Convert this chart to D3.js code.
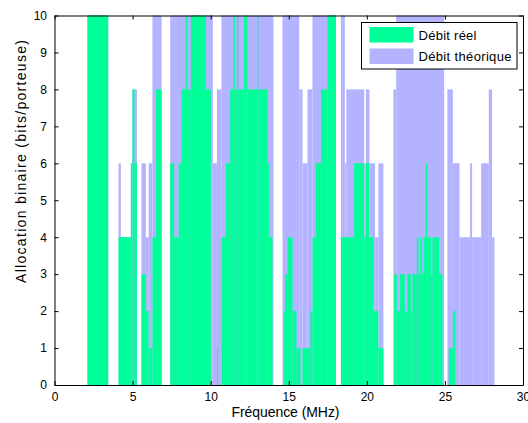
<!DOCTYPE html>
<html>
<head>
<meta charset="utf-8">
<script src="https://cdn.jsdelivr.net/npm/d3@7"></script>
<style>
  html, body { margin: 0; padding: 0; background: #fff; }
  svg { display: block; }
  text { font-family: "Liberation Sans", Arial, sans-serif; fill: #000; }
</style>
</head>
<body>
<svg id="chart" width="528" height="423"></svg>
<script>
// ---- data (frequency in MHz, bits per carrier) ----
const theoStart = [2.11,4.10,4.25,4.89,4.99,5.57,5.85,6.03,6.27,7.41,10.14,10.40,10.69,14.60,15.67,15.88,16.20,16.52,18.34,18.59,18.69,19.83,19.94,20.17,20.53,20.74,21.70,21.88,25.16,25.51,25.93,26.61,26.74,27.32,27.81,28.02];
const theoEnd   = [3.44,4.25,4.89,4.99,5.28,5.85,6.03,6.27,6.86,10.14,10.40,10.69,14.02,15.67,15.88,16.20,16.52,18.02,18.59,18.69,19.83,19.94,20.17,20.53,20.74,21.06,21.88,24.95,25.51,25.93,26.61,26.74,27.32,27.81,28.02,28.17];
const theoBits  = [10,6,4,6,8,6,4,6,10,10,6,8,10,10,8,6,8,10,10,6,8,6,8,6,4,6,8,10,8,6,4,6,4,6,8,4];

const realStart = [2.11,4.10,4.89,4.99,5.12,5.57,5.85,6.03,6.27,6.50,7.41,7.66,7.95,8.14,8.41,8.51,8.73,9.69,10.40,10.69,10.97,11.25,11.46,11.55,11.68,11.76,12.14,12.36,13.00,13.05,13.64,13.75,14.68,14.76,14.92,15.24,15.49,15.88,16.39,16.52,16.73,17.06,17.48,18.34,19.19,19.83,19.94,20.15,20.42,20.74,21.75,21.92,22.13,22.43,22.60,22.82,22.92,23.20,23.31,23.41,23.52,23.63,23.78,23.88,24.10,24.20,24.63,25.25,25.51];
const realEnd   = [3.44,4.89,4.99,5.12,5.28,5.85,6.03,6.27,6.50,6.86,7.66,7.95,8.14,8.41,8.51,8.73,9.69,10.01,10.47,10.97,11.25,11.46,11.55,11.68,11.76,12.14,12.36,13.00,13.05,13.64,13.75,13.96,14.76,14.92,15.24,15.49,15.75,16.39,16.52,16.73,17.06,17.48,18.02,19.19,19.83,19.94,20.15,20.42,20.74,21.06,21.92,22.13,22.43,22.60,22.82,22.92,23.20,23.31,23.41,23.52,23.63,23.78,23.88,24.10,24.20,24.63,24.84,25.51,25.67];
const realBits  = [10,4,6,8,6,3,2,1,4,8,6,4,6,8,10,8,10,8,1,4,6,8,10,8,10,8,10,8,10,8,6,4,2,3,4,2,1,1,2,4,6,8,10,4,6,4,6,4,2,1,3,2,3,2,3,2,3,4,3,4,3,4,6,4,3,4,3,1,2];

const xTicks = [0,5,10,15,20,25,30];
const yTicks = [0,1,2,3,4,5,6,7,8,9,10];
const seriesNames = ["Débit réel", "Débit théorique"];
const xLabel = "Fréquence (MHz)";
const yLabel = "Allocation binaire (bits/porteuse)";

// ---- styling ----
const colReal = "#00ff99";
const colTheo = "#b3b3ff";

const svg = d3.select("#chart");
const x = d3.scaleLinear().domain([0, 30]).range([54.5, 523]);
const y = d3.scaleLinear().domain([0, 10]).range([385, 15.5]);

const theo = theoStart.map((s, i) => ({ s, e: theoEnd[i], v: theoBits[i] }));
const real = realStart.map((s, i) => ({ s, e: realEnd[i], v: realBits[i] }));

const plot = svg.append("g");
plot.selectAll("rect.theo").data(theo).enter().append("rect")
  .attr("class", "theo")
  .attr("x", d => x(d.s)).attr("width", d => x(d.e) - x(d.s))
  .attr("y", d => y(d.v)).attr("height", d => y(0) - y(d.v))
  .attr("fill", colTheo);
plot.selectAll("rect.real").data(real).enter().append("rect")
  .attr("class", "real")
  .attr("x", d => x(d.s)).attr("width", d => x(d.e) - x(d.s))
  .attr("y", d => y(d.v)).attr("height", d => y(0) - y(d.v))
  .attr("fill", colReal);

// ---- axes ----
const fs = "12px";
const gx = svg.append("g").attr("transform", `translate(0,${y(0)})`)
  .call(d3.axisBottom(x).tickValues(xTicks).tickFormat(d3.format("d")).tickSizeInner(-4).tickSizeOuter(0).tickPadding(7));
const gxt = svg.append("g").attr("transform", `translate(0,${y(10)})`)
  .call(d3.axisTop(x).tickValues(xTicks).tickFormat("").tickSizeInner(-4).tickSizeOuter(0));
const gy = svg.append("g").attr("transform", `translate(${x(0)},0)`)
  .call(d3.axisLeft(y).tickValues(yTicks).tickFormat(d3.format("d")).tickSizeInner(-4).tickSizeOuter(0).tickPadding(7.5));
const gyr = svg.append("g").attr("transform", `translate(${x(30)},0)`)
  .call(d3.axisRight(y).tickValues(yTicks).tickFormat("").tickSizeInner(-4).tickSizeOuter(0));
[gx, gxt, gy, gyr].forEach(g => {
  g.selectAll("path.domain").attr("stroke", "#000");
  g.selectAll("line").attr("stroke", "#000");
  g.selectAll("text").style("font-size", fs).attr("fill", "#000")
    .style("font-family", '"Liberation Sans", Arial, sans-serif');
});

// ---- axis labels ----
svg.append("text").attr("x", 285.5).attr("y", 417).attr("text-anchor", "middle")
  .style("font-size", "14px").attr("textLength", 108).attr("lengthAdjust", "spacing").text(xLabel);
svg.append("text").attr("transform", "translate(25.5,161.5) rotate(-90)").attr("text-anchor", "middle")
  .style("font-size", "14px").attr("textLength", 243).attr("lengthAdjust", "spacing").text(yLabel);

// ---- legend ----
const lg = svg.append("g");
lg.append("rect").attr("x", 361.5).attr("y", 22.5).attr("width", 155.5).attr("height", 46.5)
  .attr("fill", "#fff").attr("stroke", "#000").attr("stroke-width", 1);
const lcol = [colReal, colTheo];
const lw = [58, 93];
seriesNames.forEach((n, i) => {
  lg.append("rect").attr("x", 369.5).attr("y", 27 + i * 21.5).attr("width", 44).attr("height", 15.5).attr("fill", lcol[i]);
  lg.append("text").attr("x", 418.5).attr("y", 40 + i * 21).style("font-size", "13px")
    .attr("textLength", lw[i]).attr("lengthAdjust", "spacing").text(n);
});
</script>
</body>
</html>
